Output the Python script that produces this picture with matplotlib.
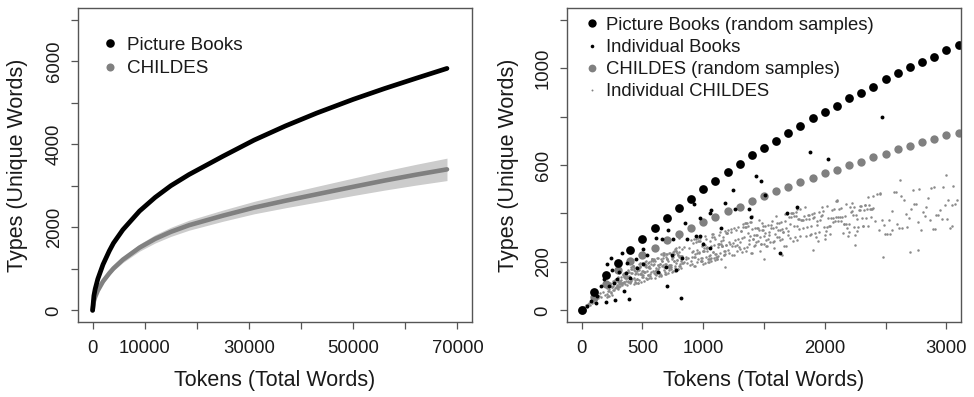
import matplotlib
matplotlib.use('Agg')
import matplotlib.pyplot as plt
from matplotlib.lines import Line2D

plt.rcParams['font.family'] = ['Liberation Sans', 'DejaVu Sans']

# ---- left panel: type/token curves ----
tokens = [0, 250, 500, 1000, 2000, 3200, 4000, 5800, 9000, 12000, 15000,
          18500, 25000, 31000, 37000, 43000, 50000, 56000, 62000, 68000]
books_curve = [0, 352, 516, 755, 1105, 1430, 1618, 1940, 2390, 2720, 3000,
               3270, 3710, 4100, 4440, 4750, 5080, 5340, 5585, 5825]
childes_curve = [0, 223, 326, 477, 698, 893, 1010, 1220, 1510, 1722, 1890,
                 2050, 2280, 2475, 2640, 2795, 2975, 3125, 3265, 3395]
childes_low = [0, 215, 311, 452, 658, 843, 955, 1150, 1425, 1622, 1780,
               1930, 2145, 2325, 2470, 2605, 2765, 2895, 3015, 3125]
childes_high = [0, 231, 341, 502, 738, 943, 1065, 1290, 1595, 1822, 2000,
                2170, 2415, 2625, 2810, 2985, 3185, 3355, 3515, 3665]

# ---- right panel: random samples every 100 tokens ----
sample_tokens = [0, 100, 200, 300, 400, 500, 600, 700, 800, 900, 1000, 1100,
                 1200, 1300, 1400, 1500, 1600, 1700, 1800, 1900, 2000, 2100,
                 2200, 2300, 2400, 2500, 2600, 2700, 2800, 2900, 3000, 3100]
books_sample = [0, 77, 144, 196, 251, 295, 339, 382, 423, 460, 499, 536, 573,
                603, 640, 669, 699, 732, 760, 793, 817, 845, 876, 896, 924,
                953, 981, 1005, 1027, 1047, 1076, 1097]
childes_sample = [0, 55, 110, 165, 203, 230, 258, 290, 316, 339, 364, 386, 410,
                  428, 451, 471, 492, 510, 529, 547, 565, 581, 598, 613, 632,
                  647, 664, 678, 694, 708, 722, 733]

# individual picture books
book_x = [2473, 1878, 2026, 1437, 1472, 1245, 1505, 1179, 1261, 1376, 924, 1053,
          1066, 973, 1686, 1774, 1390, 847, 1149, 710, 661, 754, 869, 971, 609,
          1001, 505, 1056, 746, 823, 1629, 450, 505, 691, 631, 773, 705, 814,
          389, 274, 197, 115, 348, 398, 293, 362, 252, 206, 239, 335, 376, 156,
          129, 74, 47, 225, 184, 266, 307, 110, 458, 540, 937]
book_y = [798, 654, 625, 554, 536, 496, 475, 444, 419, 419, 441, 403, 416, 382,
          403, 428, 386, 361, 339, 331, 293, 293, 293, 309, 297, 275, 254, 257,
          229, 217, 238, 213, 190, 180, 158, 166, 100, 52, 48, 41, 34, 32, 82,
          135, 130, 155, 166, 190, 217, 238, 196, 100, 59, 38, 18, 100, 128,
          114, 158, 80, 176, 227, 309]

# individual CHILDES transcripts (tokens, types)
childes_indiv = [
    (22, 14), (35, 22), (48, 15), (55, 28), (63, 30), (70, 24), (78, 38), (85, 31),
    (92, 44), (100, 36), (108, 52), (115, 41), (122, 47), (130, 62), (138, 49),
    (145, 58), (152, 70), (160, 55), (175, 75), (190, 63),
    (205, 69), (210, 57), (215, 78), (222, 61), (228, 88), (233, 115), (238, 73),
    (244, 100), (250, 96), (255, 85), (260, 99), (266, 120), (271, 127), (276, 116),
    (282, 131), (288, 96), (293, 91), (298, 99), (303, 132), (308, 109), (313, 122),
    (318, 99), (323, 126), (328, 115), (333, 111), (338, 113), (343, 145),
    (348, 116), (353, 110), (358, 143), (363, 158), (368, 134), (373, 105),
    (378, 119), (383, 158), (388, 160), (393, 137), (397, 119), (300, 137),
    (350, 141),
    (207, 94), (212, 108), (217, 60), (224, 81), (230, 108), (235, 110), (240, 74),
    (246, 63), (252, 96), (257, 123), (262, 112), (268, 83), (273, 91), (278, 124),
    (284, 95), (290, 97), (295, 104), (300, 118), (305, 95), (310, 121), (315, 111),
    (320, 138), (325, 108), (330, 103), (335, 112), (340, 150), (345, 139),
    (350, 154), (355, 149), (360, 132), (365, 121), (370, 135), (375, 143),
    (380, 120), (385, 165), (390, 142), (395, 118), (399, 139), (302, 88),
    (352, 117),
    (402, 111), (406, 154), (410, 180), (415, 130), (419, 182), (423, 182),
    (428, 132), (432, 167), (437, 151), (441, 119), (446, 111), (450, 154),
    (455, 179), (459, 130), (464, 114), (468, 191), (473, 175), (477, 151),
    (482, 194), (486, 152), (491, 153), (495, 162), (500, 197), (504, 139),
    (509, 148), (513, 123), (518, 183), (522, 192), (527, 135), (531, 178),
    (536, 162), (540, 129), (545, 181), (549, 147), (554, 198), (558, 183),
    (563, 150), (567, 134), (572, 202), (576, 211), (581, 212), (585, 204),
    (590, 189), (594, 156), (598, 207),
    (404, 170), (408, 121), (412, 155), (417, 172), (421, 182), (425, 183),
    (430, 175), (434, 108), (439, 126), (443, 161), (448, 178), (452, 129),
    (457, 164), (461, 114), (466, 149), (470, 166), (475, 125), (479, 184),
    (484, 177), (488, 119), (493, 145), (497, 137), (502, 197), (506, 164),
    (511, 157), (515, 158), (520, 201), (524, 160), (529, 186), (533, 203),
    (538, 128), (542, 146), (547, 197), (551, 173), (556, 132), (560, 141),
    (565, 175), (569, 193), (574, 160), (578, 212), (583, 213), (587, 163),
    (592, 214), (596, 190), (600, 149),
    (603, 134), (607, 164), (612, 175), (616, 216), (621, 157), (625, 188),
    (630, 169), (634, 179), (639, 160), (643, 151), (648, 152), (652, 213),
    (657, 144), (661, 205), (666, 216), (670, 236), (675, 227), (679, 168),
    (684, 159), (688, 190), (693, 231), (697, 151), (702, 232), (706, 213),
    (711, 204), (715, 165), (720, 186), (724, 177), (729, 238), (733, 178),
    (738, 189), (742, 160), (747, 221), (751, 222), (756, 203), (760, 233),
    (765, 164), (769, 255), (774, 196), (778, 247), (783, 208), (787, 209),
    (792, 229), (796, 170), (801, 261), (805, 222), (810, 223), (814, 174),
    (819, 225), (823, 255), (828, 196), (840, 199), (855, 211), (870, 194),
    (885, 257),
    (605, 204), (609, 145), (614, 166), (618, 156), (623, 157), (627, 218),
    (632, 189), (636, 140), (641, 191), (645, 192), (650, 233), (654, 143),
    (659, 204), (663, 185), (668, 186), (672, 227), (677, 178), (681, 238),
    (686, 149), (690, 220), (695, 191), (699, 212), (704, 213), (708, 154),
    (713, 184), (717, 175), (722, 236), (726, 177), (731, 188), (735, 169),
    (740, 210), (744, 220), (749, 241), (753, 162), (758, 243), (762, 204),
    (767, 175), (771, 185), (776, 246), (780, 257), (785, 238), (789, 229),
    (794, 170), (798, 241), (803, 182), (807, 182), (812, 193), (816, 214),
    (821, 205), (825, 226), (830, 197), (845, 260), (860, 222), (875, 215),
    (892, 188),
    (900, 205), (905, 242), (912, 219), (918, 244), (925, 294), (930, 233),
    (936, 185), (942, 284), (948, 199), (954, 213), (960, 286), (966, 238),
    (972, 288), (978, 203), (984, 204), (990, 205), (996, 278), (1002, 243),
    (1008, 256), (1014, 196), (1020, 222), (1026, 296), (1032, 247), (1038, 211),
    (1044, 200), (1050, 226), (1056, 287), (1062, 203), (1068, 216), (1074, 314),
    (1080, 242), (1086, 304), (1092, 268), (1098, 233), (1104, 221), (1110, 221),
    (1116, 210), (1122, 272), (1128, 273), (1134, 274), (1140, 324), (1146, 287),
    (1152, 264), (1158, 265), (1164, 290), (1170, 243), (1176, 244), (1182, 329),
    (1188, 269), (1194, 319), (1200, 332), (1210, 284), (1220, 274), (1230, 336),
    (1240, 265), (1250, 229), (1260, 267), (1270, 330), (1280, 245), (1290, 345),
    (903, 290), (908, 193), (915, 280), (921, 220), (928, 184), (933, 222),
    (939, 295), (945, 235), (951, 248), (957, 298), (963, 287), (969, 239),
    (975, 300), (981, 216), (987, 217), (993, 266), (999, 243), (1005, 244),
    (1011, 269), (1017, 306), (1023, 258), (1029, 259), (1035, 260), (1041, 200),
    (1047, 213), (1053, 213), (1059, 227), (1065, 264), (1071, 302), (1077, 242),
    (1083, 316), (1089, 218), (1095, 207), (1101, 293), (1107, 234), (1113, 210),
    (1119, 223), (1125, 261), (1131, 310), (1137, 238), (1143, 214), (1149, 276),
    (1155, 265), (1161, 302), (1167, 229), (1173, 230), (1179, 231), (1185, 318),
    (1191, 270), (1197, 320), (1205, 248), (1215, 236), (1225, 324), (1235, 227),
    (1245, 277), (1255, 340), (1265, 292), (1275, 269), (1285, 295), (1295, 260),
    (1300, 254), (1308, 327), (1316, 242), (1324, 343), (1332, 258), (1340, 344),
    (1348, 245), (1356, 346), (1364, 261), (1372, 348), (1380, 292), (1388, 307),
    (1396, 366), (1404, 236), (1412, 295), (1420, 310), (1428, 268), (1436, 283),
    (1444, 313), (1452, 285), (1460, 330), (1468, 243), (1476, 273), (1484, 360),
    (1492, 347), (1500, 305), (1510, 349), (1520, 264), (1530, 293), (1540, 323),
    (1550, 282), (1560, 341), (1570, 342), (1580, 285), (1590, 315), (1600, 388),
    (1610, 360), (1620, 361), (1630, 333), (1640, 363), (1650, 293), (1660, 323),
    (1670, 367), (1680, 267), (1690, 398), (1700, 312), (1710, 357), (1720, 401),
    (1730, 402), (1740, 403), (1750, 347), (1760, 406), (1770, 349), (1780, 379),
    (1790, 337),
    (1304, 283), (1312, 327), (1320, 299), (1328, 358), (1336, 301), (1344, 360),
    (1352, 361), (1360, 362), (1368, 319), (1376, 276), (1384, 364), (1392, 235),
    (1400, 337), (1408, 295), (1416, 267), (1424, 340), (1432, 312), (1440, 341),
    (1448, 342), (1456, 372), (1464, 301), (1472, 273), (1480, 332), (1488, 333),
    (1496, 276), (1505, 320), (1515, 292), (1525, 265), (1535, 352), (1545, 310),
    (1555, 354), (1565, 369), (1575, 284), (1585, 256), (1595, 344), (1605, 302),
    (1615, 332), (1625, 304), (1635, 291), (1645, 335), (1655, 322), (1665, 265),
    (1675, 396), (1685, 339), (1695, 326), (1705, 385), (1715, 300), (1725, 387),
    (1735, 288), (1745, 389), (1755, 304), (1765, 391), (1775, 292), (1785, 379),
    (1795, 308),
    (1800, 420), (1812, 372), (1824, 373), (1836, 425), (1848, 376), (1860, 395),
    (1872, 379), (1884, 314), (1896, 399), (1908, 401), (1920, 318), (1932, 354),
    (1944, 288), (1956, 407), (1968, 391), (1980, 393), (1992, 344), (2004, 295),
    (2016, 346), (2028, 380), (2040, 348), (2052, 381), (2064, 366), (2076, 417),
    (2088, 384), (2100, 451), (2112, 369), (2124, 386), (2136, 421), (2148, 321),
    (2160, 355), (2172, 439), (2184, 340), (2196, 324), (2208, 425), (2220, 442),
    (2232, 393), (2244, 343), (2256, 394), (2268, 329), (2280, 413), (2292, 413),
    (2304, 381), (2316, 348), (2328, 433), (2340, 383), (2352, 350), (2364, 435),
    (2376, 386), (2388, 419),
    (1806, 371), (1818, 339), (1830, 391), (1842, 308), (1854, 344), (1866, 395),
    (1878, 313), (1890, 348), (1902, 383), (1914, 384), (1926, 303), (1938, 370),
    (1950, 322), (1962, 373), (1974, 425), (1986, 410), (1998, 312), (2010, 329),
    (2022, 429), (2034, 347), (2046, 315), (2058, 416), (2070, 382), (2082, 367),
    (2094, 451), (2106, 385), (2118, 419), (2130, 370), (2142, 387), (2154, 355),
    (2166, 388), (2178, 356), (2190, 307), (2202, 358), (2214, 408), (2226, 409),
    (2238, 427), (2250, 311), (2262, 378), (2274, 345), (2286, 430), (2298, 431),
    (2310, 347), (2322, 415), (2334, 433), (2346, 417), (2358, 467), (2370, 418),
    (2382, 419), (2394, 470),
    (2400, 423), (2414, 368), (2428, 481), (2442, 331), (2456, 483), (2470, 371),
    (2484, 352), (2498, 315), (2512, 316), (2526, 373), (2540, 317), (2554, 412),
    (2568, 488), (2582, 489), (2596, 358), (2610, 340), (2624, 472), (2638, 341),
    (2652, 455), (2666, 399), (2680, 343), (2694, 382), (2708, 419), (2722, 496),
    (2736, 440), (2750, 441), (2764, 366), (2778, 499), (2792, 330), (2806, 406),
    (2820, 388), (2834, 426), (2848, 464), (2862, 371), (2876, 504), (2890, 335),
    (2904, 335), (2918, 393), (2932, 394), (2946, 413), (2960, 376), (2974, 509),
    (2988, 433), (3002, 378), (3016, 454), (3030, 342), (3044, 436), (3058, 513),
    (3072, 438), (3086, 457),
    (1180, 180), (1500, 210), (1900, 250), (2480, 220), (2700, 240), (2250, 270),
    (1650, 230), (1000, 190), (3050, 350), (2550, 330), (2900, 510), (2100, 455),
    (2450, 480), (1400, 390), (800, 300), (600, 260), (2770, 250), (3000, 560),
    (2620, 540), (1770, 420),
]
indiv_x = [p[0] for p in childes_indiv]
indiv_y = [p[1] for p in childes_indiv]

BLACK = '#000000'
GREY = '#808080'
LIGHT = '#cccccc'
TXT = '#1a1a1a'
FS = 13.3

fig = plt.figure(figsize=(9.74, 3.97), dpi=100)
ax1 = fig.add_axes([78 / 974, 75 / 397, 394 / 974, 314 / 397])
ax2 = fig.add_axes([567 / 974, 75 / 397, 394 / 974, 314 / 397])


def style(ax):
    for s in ax.spines.values():
        s.set_color('#555555')
        s.set_linewidth(1.0)
    ax.tick_params(direction='out', length=5, width=0.9, color='#555555',
                   labelsize=FS, labelcolor=TXT)
    ax.tick_params(axis='x', pad=8)
    ax.tick_params(axis='y', pad=6)
    ax.set_xlabel('Tokens (Total Words)', fontsize=15.5, color=TXT)
    ax.set_ylabel('Types (Unique Words)', fontsize=15.5, color=TXT)


# left panel
ax1.fill_between(tokens, childes_low, childes_high, color=LIGHT, lw=0)
ax1.plot(tokens, childes_curve, color=GREY, lw=3.3, solid_capstyle='round')
ax1.plot(tokens, books_curve, color=BLACK, lw=3.4, solid_capstyle='round')
ax1.set_xlim(-2800, 72800)
ax1.set_ylim(-280, 7280)
ax1.set_xticks([0, 10000, 20000, 30000, 40000, 50000, 60000, 70000])
ax1.set_xticklabels(['0', '10000', '', '30000', '', '50000', '', '70000'])
ax1.set_yticks([0, 1000, 2000, 3000, 4000, 5000, 6000, 7000])
ax1.set_yticklabels(['0', '', '2000', '', '4000', '', '6000', ''],
                    rotation=90, va='center')
style(ax1)
ax1.xaxis.set_label_coords(0.5, -0.153)
ax1.yaxis.set_label_coords(-0.126, 0.5)
h1 = [Line2D([], [], ls='', marker='o', ms=6.2, mew=0, color=BLACK),
      Line2D([], [], ls='', marker='o', ms=5.8, mew=0, color=GREY)]
ax1.legend(h1, ['Picture Books', 'CHILDES'], loc='upper left',
           bbox_to_anchor=(0.067, 0.908), frameon=False, fontsize=13.6,
           handlelength=0.6, handletextpad=0.62, labelspacing=0.31,
           borderpad=0, borderaxespad=0, labelcolor=TXT)

# right panel
ax2.plot(indiv_x, indiv_y, ls='', marker='o', ms=1.8, mew=0, color='#8a8a8a')
ax2.plot(sample_tokens, childes_sample, ls='', marker='o', ms=6.0, mew=0,
         color=GREY)
ax2.plot(book_x, book_y, ls='', marker='o', ms=2.8, mew=0, color=BLACK)
ax2.plot(sample_tokens, books_sample, ls='', marker='o', ms=6.3, mew=0,
         color=BLACK)
ax2.set_xlim(-120, 3120)
ax2.set_ylim(-48, 1248)
ax2.set_xticks([0, 500, 1000, 1500, 2000, 2500, 3000])
ax2.set_xticklabels(['0', '500', '1000', '', '2000', '', '3000'])
ax2.set_yticks([0, 200, 400, 600, 800, 1000, 1200])
ax2.set_yticklabels(['0', '200', '', '600', '', '1000', ''],
                    rotation=90, va='center')
style(ax2)
ax2.xaxis.set_label_coords(0.5, -0.153)
ax2.yaxis.set_label_coords(-0.122, 0.5)
h2 = [Line2D([], [], ls='', marker='o', ms=6.0, mew=0, color=BLACK),
      Line2D([], [], ls='', marker='o', ms=2.6, mew=0, color=BLACK),
      Line2D([], [], ls='', marker='o', ms=5.6, mew=0, color=GREY),
      Line2D([], [], ls='', marker='o', ms=1.4, mew=0, color=GREY)]
ax2.legend(h2, ['Picture Books (random samples)', 'Individual Books',
                'CHILDES (random samples)', 'Individual CHILDES'],
           loc='upper left', bbox_to_anchor=(0.049, 0.9715), frameon=False,
           fontsize=FS, handlelength=0.6, handletextpad=0.46,
           labelspacing=0.275, borderpad=0, borderaxespad=0, labelcolor=TXT)

fig.savefig('out.png', dpi=100)
